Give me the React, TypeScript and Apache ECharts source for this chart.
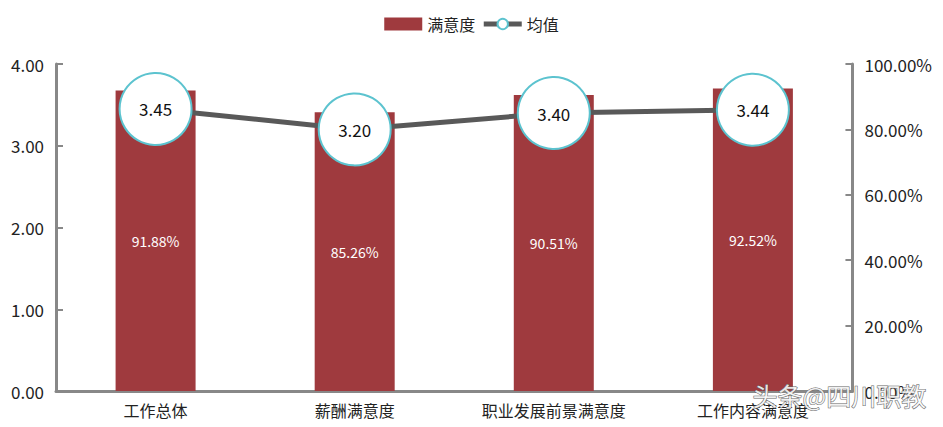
import React, { useEffect, useRef } from "react";
import * as echarts from "echarts";

const categories = ["工作总体", "薪酬满意度", "职业发展前景满意度", "工作内容满意度"];
const satisfaction = [91.88, 85.26, 90.51, 92.52];
const means = [3.45, 3.2, 3.4, 3.44];
const leftTicks = { min: 0, max: 4, interval: 1 };
const rightTicks = { min: 0, max: 100, interval: 20 };

const FONT = "'Noto Sans CJK SC', 'Noto Sans', sans-serif";

export default function App() {
  const ref = useRef<HTMLDivElement>(null);
  useEffect(() => {
    if (!ref.current) return;
    const chart = echarts.init(ref.current, null, { renderer: "svg" });
    chart.setOption({
      animation: false,
      textStyle: { fontFamily: FONT },
      legend: {
        top: 3,
        left: "center",
        itemGap: 6,
        itemWidth: 38,
        itemHeight: 13,
        textStyle: { fontSize: 16, color: "#222", fontFamily: FONT },
        data: [
          { name: "满意度", icon: "rect" },
          { name: "均值", lineStyle: { width: 5, color: "#595959" } },
        ],
      },
      grid: { left: 46, right: 81, top: 56, bottom: 36 },
      xAxis: {
        type: "category",
        data: categories,
        axisLine: { lineStyle: { color: "#888", width: 3 } },
        axisTick: { show: false },
        axisLabel: { fontSize: 16, color: "#222", margin: 11, fontFamily: FONT },
      },
      yAxis: [
        {
          type: "value",
          ...leftTicks,
          position: "left",
          splitLine: { show: false },
          axisLine: { show: true, lineStyle: { color: "#888", width: 3 } },
          axisTick: { show: true, inside: true, length: 7, lineStyle: { color: "#888", width: 2 } },
          axisLabel: {
            fontSize: 17,
            color: "#222",
            margin: 12,
            fontFamily: FONT,
            formatter: (v: number) => v.toFixed(2),
          },
        },
        {
          type: "value",
          ...rightTicks,
          position: "right",
          splitLine: { show: false },
          axisLine: { show: true, lineStyle: { color: "#888", width: 3 } },
          axisTick: { show: true, inside: true, length: 7, lineStyle: { color: "#888", width: 2 } },
          axisLabel: {
            fontSize: 17,
            color: "#222",
            margin: 12,
            fontFamily: FONT,
            formatter: (v: number) => v.toFixed(2) + "%",
          },
        },
      ],
      series: [
        {
          name: "满意度",
          type: "bar",
          yAxisIndex: 1,
          data: satisfaction,
          barWidth: 80,
          itemStyle: { color: "#9F3A3E" },
          label: {
            show: true,
            position: "inside",
            color: "#fff",
            fontSize: 14,
            fontFamily: FONT,
            formatter: (p: any) => p.value.toFixed(2) + "%",
          },
          z: 2,
        },
        {
          name: "均值",
          type: "line",
          yAxisIndex: 0,
          data: means,
          symbol: "circle",
          symbolSize: 72,
          lineStyle: { color: "#595959", width: 5 },
          itemStyle: { color: "#fff", borderColor: "#5cc3cf", borderWidth: 2 },
          label: {
            show: true,
            position: "inside",
            color: "#111",
            fontSize: 17,
            fontFamily: FONT,
            formatter: (p: any) => p.value.toFixed(2),
          },
          z: 3,
        },
      ],
      graphic: [
        {
          type: "text",
          left: 744,
          top: 374,
          z: 100,
          style: {
            text: "头条@四川职教",
            fontSize: 25,
            fontFamily: FONT,
            fill: "rgba(255,255,255,0.85)",
            stroke: "#666",
            lineWidth: 1,
          },
        },
      ],
    });
    return () => chart.dispose();
  }, []);
  return <div ref={ref} style={{ width: 927, height: 419 }} />;
}
